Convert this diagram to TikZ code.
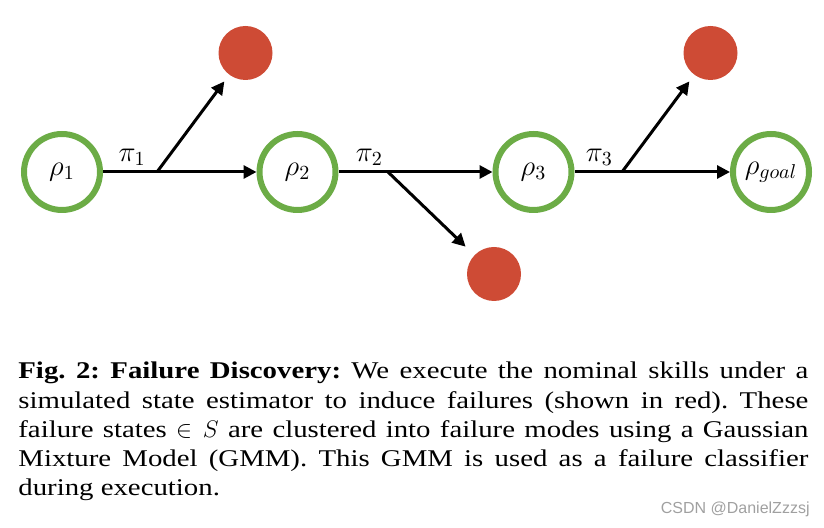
\documentclass[tikz,border=0pt]{standalone}
\usepackage{fontspec}
\setmainfont{Liberation Serif}
\setsansfont{Liberation Sans}
\newfontfamily\capfont[FakeStretch=1.2]{Liberation Serif}
\usetikzlibrary{arrows.meta}
\definecolor{stategreen}{RGB}{108,172,70}
\definecolor{failred}{RGB}{206,75,53}
\definecolor{markgray}{RGB}{160,160,160}

\begin{document}
\begin{tikzpicture}[x=0.5pt, y=-0.5pt,
	state/.style={circle, draw=stategreen, line width=3pt, minimum size=38pt, inner sep=0pt, font=\fontsize{14}{16}\selectfont},
	fail/.style={circle, fill=failred, minimum size=27pt, inner sep=0pt},
	arr/.style={line width=1.5pt, -{Triangle[length=6.5pt, width=6.5pt]}},
	skill/.style={above, inner sep=2.5pt, font=\fontsize{14}{16}\selectfont}]
	\useasboundingbox (0,0) rectangle (824,528);
	
	% states
	\node[state] (r1) at (62,172) {$\rho_1$};
	\node[state] (r2) at (297.5,172) {$\rho_2$};
	\node[state] (r3) at (533.5,172) {$\rho_3$};
	\node[state] (rg) at (771,172) {$\rho_{goal}$};
	
	% failures
	\node[fail] (f1) at (245.5,53) {};
	\node[fail] (f2) at (494,274) {};
	\node[fail] (f3) at (710.5,53) {};
	
	\coordinate (b1) at (157,172);
	\coordinate (b2) at (388,172);
	\coordinate (b3) at (622,172);
	
	\draw[arr] (r1) -- node[skill, pos=0.19] (p1) {$\pi_1$} (r2);
	\draw[arr] (r2) -- node[skill, pos=0.2] (p2) {$\pi_2$} (r3);
	\draw[arr] (r3) -- node[skill, pos=0.16] (p3) {$\pi_3$} (rg);
	
	\draw[arr, shorten >=4pt] (b1) -- (f1);
	\draw[arr, shorten >=6pt] (b2) -- (f2);
	\draw[arr, shorten >=4pt] (b3) -- (f3);
	
	% caption
	\node[anchor=base west, text width=395pt, align=justify, inner sep=0pt, font=\capfont\fontsize{12}{14.6}\selectfont] (cap) at (18,379)
		{\sloppy\frenchspacing\textbf{Fig. 2: Failure Discovery:} We execute the nominal skills under a\linebreak
		simulated state estimator to induce failures (shown in red). These\linebreak
		failure states $\in S$ are clustered into failure modes using a Gaussian\linebreak
		Mixture Model (GMM). This GMM is used as a failure classifier\linebreak
		during execution.};
	\node[anchor=base east, inner sep=0pt, font=\sffamily\fontsize{8}{10}\selectfont, text=markgray] (mark) at (810,514) {CSDN @DanielZzzsj};
\end{tikzpicture}
\end{document}
